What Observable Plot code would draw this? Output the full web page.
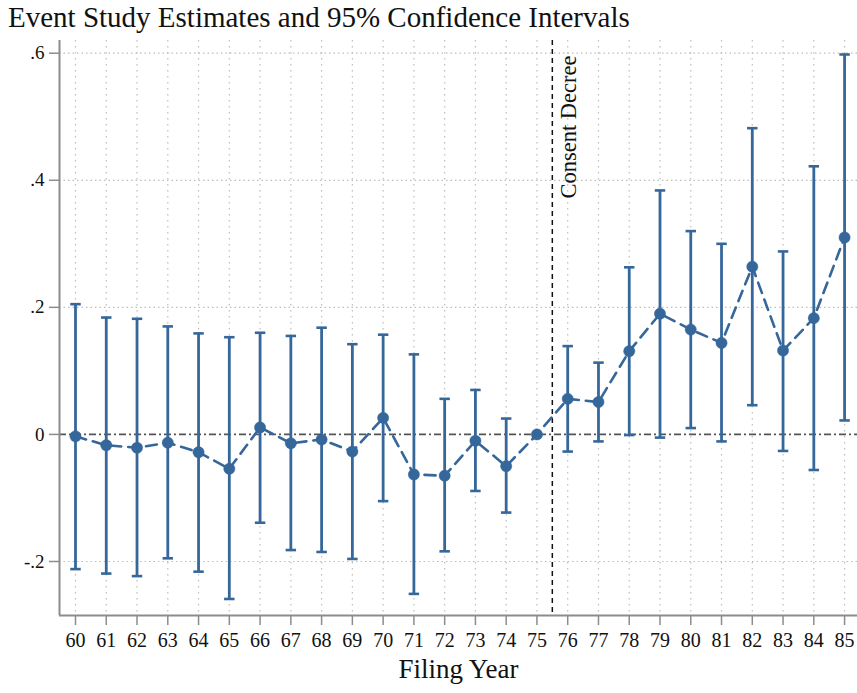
<!DOCTYPE html>
<html>
<head>
<meta charset="utf-8">
<script src="https://cdn.jsdelivr.net/npm/d3@7"></script>
<script src="https://cdn.jsdelivr.net/npm/@observablehq/plot@0.6"></script>
<style>
  html, body { margin: 0; padding: 0; background: #fff; }
  #title { height: 36px; line-height: 34px; padding-left: 8px; font-family: "Liberation Serif", serif; font-size: 29px; color: #111; white-space: nowrap; }
</style>
</head>
<body>
<div id="title">Event Study Estimates and 95% Confidence Intervals</div>
<div id="chart"></div>
<script>
const years     = [60, 61, 62, 63, 64, 65, 66, 67, 68, 69, 70, 71, 72, 73, 74, 75, 76, 77, 78, 79, 80, 81, 82, 83, 84, 85];
const estimates = [-0.003, -0.017, -0.021, -0.013, -0.028, -0.054, 0.011, -0.014, -0.008, -0.027, 0.026, -0.063, -0.065, -0.010, -0.050, 0.000, 0.056, 0.051, 0.131, 0.190, 0.165, 0.144, 0.264, 0.132, 0.183, 0.310];
const ciLower   = [-0.212, -0.219, -0.223, -0.195, -0.216, -0.259, -0.139, -0.182, -0.185, -0.196, -0.105, -0.251, -0.184, -0.089, -0.123, null, -0.027, -0.011, -0.001, -0.005, 0.010, -0.011, 0.046, -0.026, -0.056, 0.022];
const ciUpper   = [0.205, 0.184, 0.182, 0.170, 0.159, 0.153, 0.160, 0.155, 0.168, 0.142, 0.157, 0.126, 0.056, 0.070, 0.025, null, 0.139, 0.113, 0.263, 0.384, 0.320, 0.300, 0.482, 0.288, 0.422, 0.598];
const yTicks      = [-0.2, 0, 0.2, 0.4, 0.6];
const yTickLabels = ["-.2", "0", ".2", ".4", ".6"];
const eventYear   = 75.5;
const eventLabel  = "Consent Decree";
const xLabel      = "Filing Year";

const data = years.map((year, i) => ({year, est: estimates[i], lo: ciLower[i], hi: ciUpper[i]}));
const ci = data.filter(d => d.lo != null);

const blue = "#35679a";
const capHalf = 0.17;
const xDomain = [59.48, 85.42];
const yDomain = [-0.285, 0.62];
const font = "Liberation Serif, serif";

const chart = Plot.plot({
  width: 857,
  height: 657,
  marginLeft: 59,
  marginRight: 0,
  marginTop: 4,
  marginBottom: 78,
  style: {fontFamily: font, fontSize: "19px", color: "#111", background: "#fff"},
  x: {domain: xDomain},
  y: {domain: yDomain},
  marks: [
    Plot.gridY({ticks: yTicks.filter(t => t !== 0), stroke: "#bdbdbd", strokeOpacity: 1, strokeWidth: 1.2, strokeDasharray: "1.5,3"}),
    Plot.gridX({ticks: years, stroke: "#bdbdbd", strokeOpacity: 1, strokeWidth: 1.2, strokeDasharray: "1.5,4.5"}),
    Plot.ruleY([0], {stroke: "#555", strokeWidth: 1.6, strokeDasharray: "7,3,2,3"}),
    Plot.ruleX([eventYear], {stroke: "#111", strokeWidth: 1.5, strokeDasharray: "5,4"}),
    Plot.text([eventLabel], {x: eventYear, frameAnchor: "top", text: d => d, rotate: -90, textAnchor: "end", lineAnchor: "middle", dx: 16, dy: 15, fontSize: 22.5, fill: "#111"}),
    Plot.ruleX(ci, {x: "year", y1: "lo", y2: "hi", stroke: blue, strokeWidth: 2.8}),
    Plot.link(ci, {x1: d => d.year - capHalf, x2: d => d.year + capHalf, y1: "hi", y2: "hi", stroke: blue, strokeWidth: 2.6}),
    Plot.link(ci, {x1: d => d.year - capHalf, x2: d => d.year + capHalf, y1: "lo", y2: "lo", stroke: blue, strokeWidth: 2.6}),
    Plot.line(data, {x: "year", y: "est", stroke: blue, strokeWidth: 2.6, strokeDasharray: "11,7"}),
    Plot.dot(data, {x: "year", y: "est", r: 5.6, fill: blue, stroke: blue, strokeWidth: 0.5}),
    Plot.ruleX([xDomain[0]], {stroke: "#8c8c8c", strokeWidth: 2}),
    Plot.ruleY([yDomain[0]], {stroke: "#8c8c8c", strokeWidth: 2}),
    Plot.axisY({ticks: yTicks, tickFormat: d => yTickLabels[yTicks.indexOf(d)], tickSize: 10, tickPadding: 5, stroke: "#8c8c8c", strokeWidth: 1.5, fill: "#111", fontSize: 19, label: null}),
    Plot.axisX({ticks: years, tickFormat: d => String(d), tickSize: 10, tickPadding: 7, stroke: "#8c8c8c", strokeWidth: 1.5, fill: "#111", fontSize: 20, label: null}),
    Plot.text([xLabel], {frameAnchor: "bottom", text: d => d, dy: 62, fontSize: 27, fill: "#111"})
  ]
});
document.getElementById("chart").appendChild(chart);
</script>
</body>
</html>
